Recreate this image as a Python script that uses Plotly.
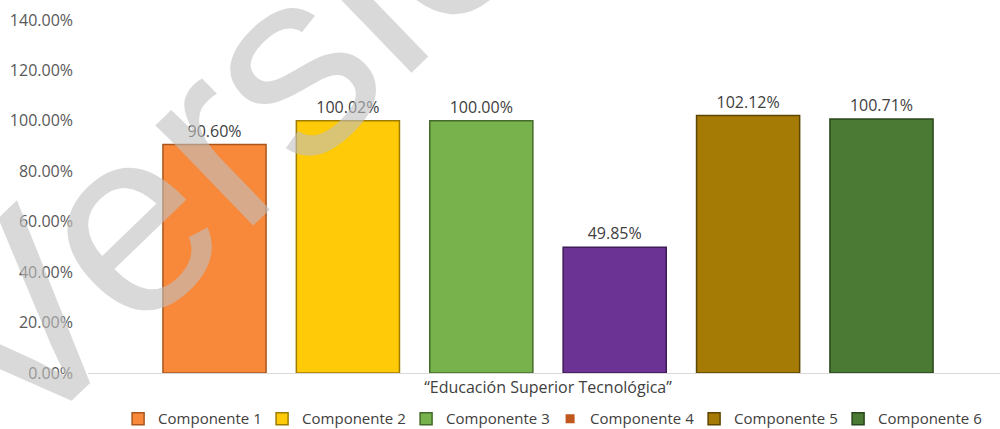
import plotly.graph_objects as go

category = ["\u201cEducación Superior Tecnológica\u201d"]
series_names = ["Componente 1", "Componente 2", "Componente 3", "Componente 4", "Componente 5", "Componente 6"]
values = [0.9060, 1.0002, 1.0000, 0.4985, 1.0212, 1.0071]
bar_colors = ["#F8893B", "#FFCA08", "#77B24C", "#6B3394", "#A57B05", "#4A7A33"]
edge_colors = ["#A9561E", "#9E7C00", "#446B29", "#3E1C57", "#5E4500", "#2A461C"]
legend_colors = ["#F8893B", "#FFCA08", "#77B24C", "#C0571C", "#A57B05", "#4A7A33"]
y_ticks = [0, 0.2, 0.4, 0.6, 0.8, 1.0, 1.2, 1.4]

FONT = "Open Sans"

fig = go.Figure()
for i, name in enumerate(series_names):
    same = legend_colors[i] == bar_colors[i]
    fig.add_trace(go.Bar(
        x=category, y=[values[i]], name=name,
        marker=dict(color=bar_colors[i], line=dict(color=edge_colors[i], width=1.5)),
        texttemplate="%{y:.2%}", textposition="outside",
        textfont=dict(family=FONT, size=16, color="#404040"),
        cliponaxis=False, showlegend=same, legendrank=i + 1,
    ))
    if not same:
        fig.add_trace(go.Scatter(
            x=[None], y=[None], mode="markers", name=name,
            marker=dict(symbol="square", size=9, color=legend_colors[i]),
            showlegend=True, legendrank=i + 1,
        ))

fig.add_annotation(
    text="Versión", xref="paper", yref="paper", x=0.201, y=0.831,
    xanchor="center", yanchor="middle", textangle=-44, showarrow=False,
    font=dict(family="Liberation Sans", size=265, color="rgba(191,191,191,0.6)"),
)

fig.update_layout(
    width=1000, height=429,
    margin=dict(l=88, r=0, t=20, b=56, autoexpand=False),
    paper_bgcolor="white", plot_bgcolor="white",
    barmode="group", bargap=0.13, bargroupgap=0.227,
    font=dict(family=FONT, size=16, color="#595959"),
    legend=dict(orientation="h", x=0.033, xanchor="left", y=-0.13, yanchor="middle",
                font=dict(family=FONT, size=15, color="#404040"),
                traceorder="normal", entrywidth=99, itemwidth=30),
    xaxis=dict(range=[-0.5, 0.4913], showline=True, linecolor="#D9D9D9", linewidth=1,
               ticks="", showgrid=False, automargin=False,
               tickfont=dict(family=FONT, size=16, color="#404040")),
    yaxis=dict(range=[0, 1.4], tickvals=y_ticks, tickformat=".2%", showgrid=False,
               zeroline=False, showline=False, ticks="", automargin=False,
               ticklabelstandoff=14,
               tickfont=dict(family=FONT, size=16, color="#595959")),
)

fig.write_html("out.html", config={"displayModeBar": False},
               post_script="document.body.style.margin='0';document.body.style.overflow='hidden';")
